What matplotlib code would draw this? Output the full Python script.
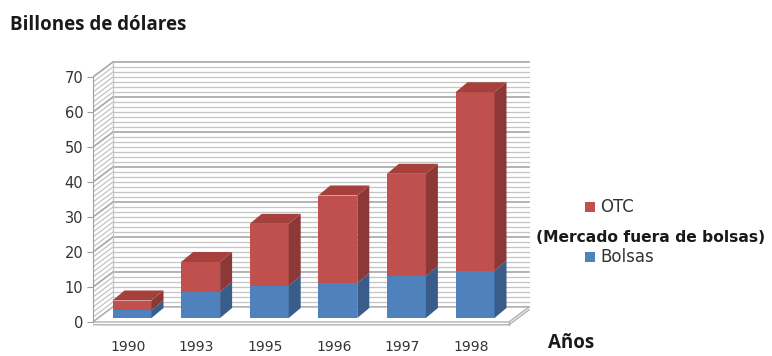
import numpy as np
import matplotlib
matplotlib.use('Agg')
import matplotlib.pyplot as plt
from matplotlib.patches import Polygon, Rectangle

# datos
anios = ['1990', '1993', '1995', '1996', '1997', '1998']
bolsas = [2.2, 7.5, 9.2, 10.0, 12.0, 13.5]
otc = [2.8, 8.5, 17.7, 25.0, 29.2, 51.0]
series = ['OTC', 'Bolsas']
y_ticks = [0, 10, 20, 30, 40, 50, 60, 70]

W, H = 772, 356
fig = plt.figure(figsize=(W/100, H/100), dpi=100)

# escala: 68.6 px por categoria, 3.5 px por unidad
pxc = 68.6
pxv = 3.5
x0_px = 128      # centro de la categoria 0 en el plano frontal
y0_px = 322      # valor 0 en el plano frontal
ax_l, ax_r, ax_t, ax_b = 93, 545, 55, 330
ax = fig.add_axes([ax_l/W, 1-ax_b/H, (ax_r-ax_l)/W, (ax_b-ax_t)/H])
ax.set_xlim((ax_l-x0_px)/pxc, (ax_r-x0_px)/pxc)
ax.set_ylim((y0_px-ax_b)/pxv, (y0_px-ax_t)/pxv)

xl = (ax_l-x0_px)/pxc
xr = (509-x0_px)/pxc
dxw, dyw = 20/pxc, 15/pxv      # profundidad de la pared
fx, fy = 4/pxc, 4/pxv          # cara frontal de las barras
bx, by = 12/pxc, 10/pxv        # profundidad de las barras
w = 39/pxc

grid_c = '#C4C4C4'
major_c = '#A6A6A6'

# pared del fondo y lateral
ax.add_patch(Polygon([(xl+dxw, dyw), (xr+dxw, dyw), (xr+dxw, 70+dyw), (xl+dxw, 70+dyw)],
                     closed=True, fc='white', ec='none', zorder=1))
minor = np.unique(np.concatenate([np.linspace(v, v+10, 8) for v in range(0, 70, 10)]))
for v in minor:
    major = any(abs(v-t) < 1e-6 for t in y_ticks)
    c = major_c if major else grid_c
    lw = 1.2 if major else 0.9
    ax.plot([xl+dxw, xr+dxw], [v+dyw, v+dyw], color=c, lw=lw, zorder=2)
    ax.plot([xl, xl+dxw], [v, v+dyw], color=c, lw=lw, zorder=2)
ax.plot([xl+dxw, xl+dxw], [dyw, 70+dyw], color=grid_c, lw=0.9, zorder=2)

# suelo
ax.add_patch(Polygon([(xl, 0), (xr, 0), (xr+dxw, dyw), (xl+dxw, dyw)],
                     closed=True, fc='white', ec='#B0B0B0', lw=1.0, zorder=3))
ax.plot([xl, xr, xr+dxw], [-0.8, -0.8, dyw-0.8], color='#B0B0B0', lw=1.0, zorder=3)
ax.plot([xr, xr], [0, -0.8], color='#B0B0B0', lw=1.0, zorder=3)

colores = {
    'Bolsas': ('#4F81BD', '#385D8A', '#4672AA'),
    'OTC': ('#C0504D', '#8C3836', '#A5403D'),
}

def barra3d(xc, b, t, cols, tapa):
    front, side, top = cols
    x0 = xc - w/2 + fx
    ax.add_patch(Rectangle((x0, b+fy), w, t-b, fc=front, ec='none', zorder=5))
    ax.add_patch(Polygon([(x0+w, b+fy), (x0+w+bx, b+fy+by), (x0+w+bx, t+fy+by), (x0+w, t+fy)],
                         closed=True, fc=side, ec='none', zorder=5))
    if tapa:
        ax.add_patch(Polygon([(x0, t+fy), (x0+w, t+fy), (x0+w+bx, t+fy+by), (x0+bx, t+fy+by)],
                             closed=True, fc=top, ec='none', zorder=5))

for i in range(len(anios)):
    barra3d(i, 0, bolsas[i], colores['Bolsas'], False)
    barra3d(i, bolsas[i], bolsas[i]+otc[i], colores['OTC'], True)

# ejes
for s in ['top', 'right', 'bottom']:
    ax.spines[s].set_visible(False)
ax.spines['left'].set_bounds(0, 70)
ax.spines['left'].set_color('#A0A0A0')
ax.spines['left'].set_zorder(4)
ax.set_yticks(y_ticks)
ax.set_yticklabels([str(t) for t in y_ticks], fontsize=10.5, color='#333333')
ax.tick_params(axis='y', length=4, color='#A0A0A0', pad=3)
ax.set_xticks(range(len(anios)))
ax.set_xticklabels(anios, fontsize=10, color='#333333')
ax.tick_params(axis='x', length=0, pad=7)
ax.patch.set_visible(False)

fig.text(10/W, 1-25/H, 'Billones de dólares', fontsize=13.5, fontweight='bold',
         color='#1A1A1A', va='center', ha='left', family='Open Sans')
fig.text(548/W, 1-343/H, 'Años', fontsize=13.5, fontweight='bold',
         color='#1A1A1A', va='center', ha='left', family='Open Sans')

# leyenda
ley_y = [207, 257]
for nom, yy in zip(series, ley_y):
    fig.add_artist(Rectangle((585/W, 1-(yy+5)/H), 10/W, 10/H, fc=colores[nom][0], ec='none',
                             transform=fig.transFigure))
    fig.text(600/W, 1-yy/H, nom, fontsize=12, color='#333333', va='center', ha='left')
fig.text(536/W, 1-237/H, '(Mercado fuera de bolsas)', fontsize=11.2, fontweight='bold',
         color='#1A1A1A', va='center', ha='left')

fig.savefig('out.png', dpi=100)
